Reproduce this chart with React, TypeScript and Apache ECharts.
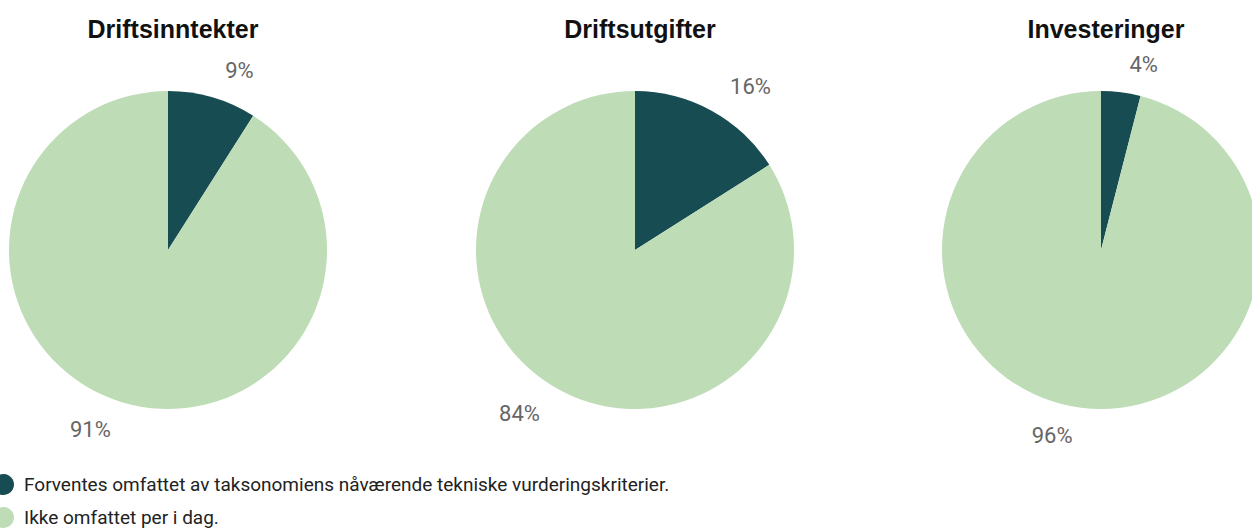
import React, { useEffect, useRef } from "react";
import * as echarts from "echarts";

const titles = ["Driftsinntekter", "Driftsutgifter", "Investeringer"];
const categories = [
  "Forventes omfattet av taksonomiens nåværende tekniske vurderingskriterier.",
  "Ikke omfattet per i dag.",
];
const covered = [9, 16, 4];
const notCovered = [91, 84, 96];
const colors = ["#174c52", "#bedcb6"];
const centersX = [168, 635, 1101];
const legendTops = [474, 507];

export default function App() {
  const ref = useRef<HTMLDivElement>(null);
  useEffect(() => {
    document.body.style.margin = "0";
    const chart = echarts.init(ref.current!, undefined, { renderer: "svg" });
    const font = "Roboto, 'Liberation Sans', sans-serif";
    chart.setOption({
      animation: false,
      color: colors,
      textStyle: { fontFamily: font },
      title: titles.map((t, i) => ({
        text: t,
        left: centersX[i],
        top: 11,
        textAlign: "center",
        textStyle: {
          fontSize: 25,
          fontWeight: "bold",
          color: "#111",
          fontFamily: "'Liberation Sans', Arial, sans-serif",
        },
      })),
      legend: categories.map((c, i) => ({
        orient: "vertical",
        left: -7,
        top: legendTops[i],
        padding: 0,
        icon: "circle",
        itemWidth: 21,
        itemHeight: 21,
        selectedMode: false,
        data: [c],
        textStyle: { fontSize: 19, color: "#222", padding: [0, 0, 0, 5], fontFamily: font },
      })),
      series: titles.map((t, i) => ({
        type: "pie",
        name: t,
        center: [centersX[i], 250],
        radius: 159,
        startAngle: 90,
        clockwise: true,
        avoidLabelOverlap: false,
        label: {
          show: true,
          position: "outside",
          formatter: "{c}%",
          fontSize: 22,
          color: "#666",
          fontFamily: font,
        },
        labelLine: { show: false, length: 28, length2: 0 },
        emphasis: { disabled: true },
        data: [
          { name: categories[0], value: covered[i] },
          { name: categories[1], value: notCovered[i] },
        ],
      })),
    });
    return () => chart.dispose();
  }, []);
  return <div ref={ref} style={{ width: 1252, height: 528 }} />;
}
